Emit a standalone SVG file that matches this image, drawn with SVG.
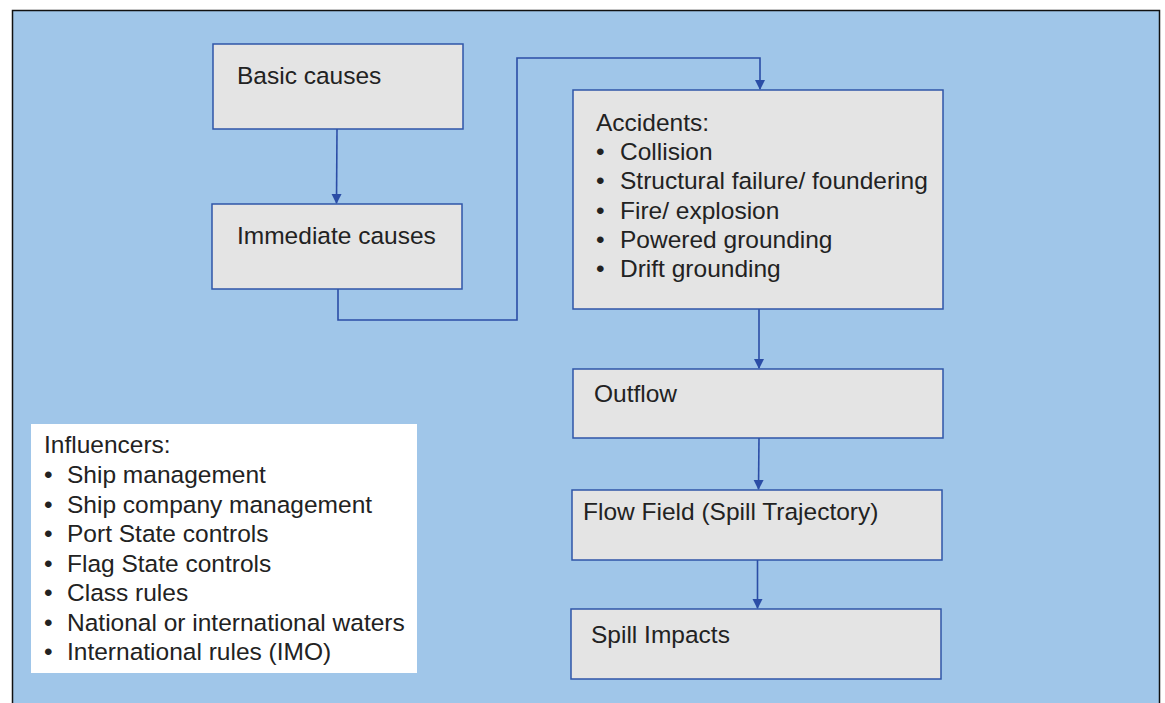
<svg xmlns="http://www.w3.org/2000/svg" width="1165" height="703" viewBox="0 0 1165 703">
<style>
.box{fill:#E4E4E4;stroke:#2F55A8;stroke-width:1.5}
.t{font-family:"Liberation Sans",Arial,sans-serif;font-size:24.5px;fill:#222}
.c{fill:none;stroke:#2B4DA6;stroke-width:1.6}
</style>
<defs>
<marker id="ah" markerWidth="10" markerHeight="12" refX="9" refY="5" orient="auto" markerUnits="userSpaceOnUse" viewBox="0 0 10 10">
<path d="M0,0 L10,5 L0,10 Z" fill="#2B4DA6"/>
</marker>
</defs>
<rect x="0" y="0" width="1165" height="703" fill="#FFFFFF"/>
<rect x="12.5" y="10.5" width="1147" height="700" fill="#A0C6E9" stroke="#111" stroke-width="1.5"/>
<g id="connectors">
<path class="c" d="M337,129 L336.5,203" marker-end="url(#ah)"/>
<path class="c" d="M338,289 L338,320 L517,320 L517,58 L760,58 L760,89" marker-end="url(#ah)"/>
<path class="c" d="M759,309 L759,368" marker-end="url(#ah)"/>
<path class="c" d="M759,438 L758.5,489" marker-end="url(#ah)"/>
<path class="c" d="M757.5,560 L757.5,608" marker-end="url(#ah)"/>
</g>
<g id="basic">
<rect class="box" x="213" y="44" width="250" height="85"/>
<text class="t" x="237" y="84">Basic causes</text>
</g>
<g id="immediate">
<rect class="box" x="212" y="204" width="250" height="85"/>
<text class="t" x="237" y="244">Immediate causes</text>
</g>
<g id="accidents">
<rect class="box" x="573" y="90" width="370" height="219"/>
<text class="t" x="596" y="131">Accidents:</text>
<text class="t" x="596" y="160">•<tspan x="620">Collision</tspan></text>
<text class="t" x="596" y="189">•<tspan x="620">Structural failure/ foundering</tspan></text>
<text class="t" x="596" y="218.5">•<tspan x="620">Fire/ explosion</tspan></text>
<text class="t" x="596" y="248">•<tspan x="620">Powered grounding</tspan></text>
<text class="t" x="596" y="277">•<tspan x="620">Drift grounding</tspan></text>
</g>
<g id="outflow">
<rect class="box" x="573" y="369" width="370" height="69"/>
<text class="t" x="594" y="402">Outflow</text>
</g>
<g id="flowfield">
<rect class="box" x="572" y="490" width="370" height="70"/>
<text class="t" x="583" y="520">Flow Field (Spill Trajectory)</text>
</g>
<g id="spill">
<rect class="box" x="571" y="609" width="370" height="70"/>
<text class="t" x="591" y="643">Spill Impacts</text>
</g>
<g id="influencers">
<rect x="31" y="424" width="386" height="249" fill="#FFFFFF"/>
<text class="t" x="44" y="453">Influencers:</text>
<text class="t" x="44" y="483">•<tspan x="67">Ship management</tspan></text>
<text class="t" x="44" y="512.5">•<tspan x="67">Ship company management</tspan></text>
<text class="t" x="44" y="542">•<tspan x="67">Port State controls</tspan></text>
<text class="t" x="44" y="571.5">•<tspan x="67">Flag State controls</tspan></text>
<text class="t" x="44" y="601">•<tspan x="67">Class rules</tspan></text>
<text class="t" x="44" y="630.5">•<tspan x="67">National or international waters</tspan></text>
<text class="t" x="44" y="660">•<tspan x="67">International rules (IMO)</tspan></text>
</g>
</svg>
